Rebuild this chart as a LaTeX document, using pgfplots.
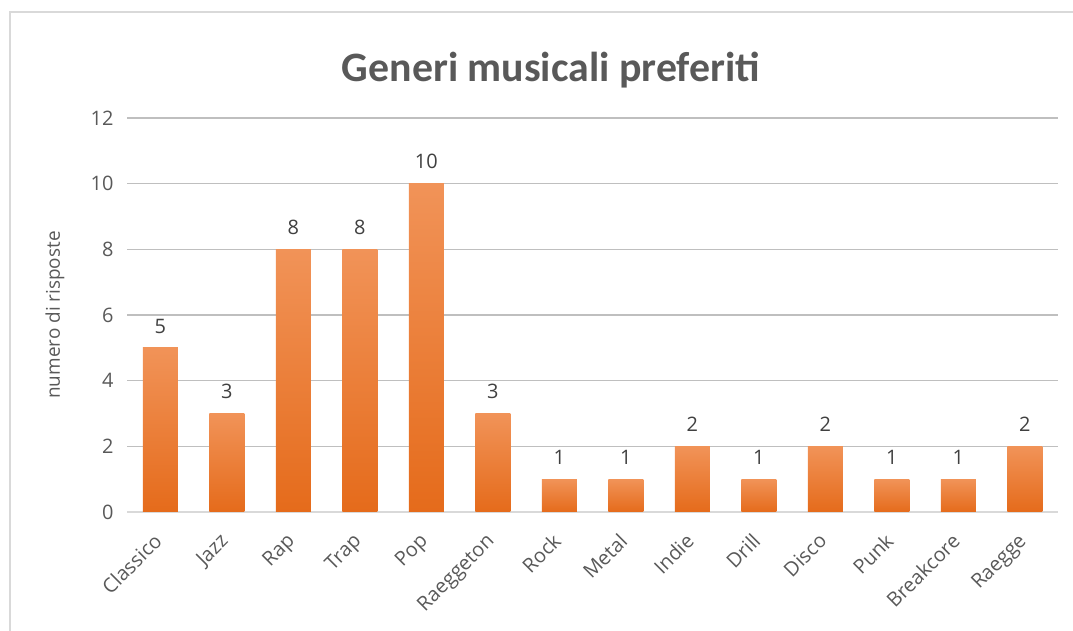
\documentclass[border=0pt]{standalone}
\usepackage{fontspec}
\setmainfont{Open Sans}
\newfontfamily\titlefont{Carlito}
\usepackage{pgfplots}
\pgfplotsset{compat=1.18}
\definecolor{txt}{HTML}{595959}
\definecolor{lab}{HTML}{404040}
\definecolor{grid}{HTML}{D9D9D9}
\definecolor{otop}{HTML}{F19358}
\definecolor{omid}{HTML}{F5832D}
\definecolor{obot}{HTML}{E56B1B}
\pgfplotsset{onebar/.style={ybar, bar shift=0pt, draw=none, top color=otop, middle color=omid, bottom color=obot}}
\begin{document}
\begin{tikzpicture}[x=1bp,y=1bp]
\useasboundingbox (0,0) rectangle (1073,631);
\draw[grid, line width=1.2bp] (10,619) rectangle (1090,-10);
\node[text=txt, font=\titlefont\fontsize{42}{46}\selectfont\bfseries] at (551,561) {Generi musicali preferiti};
\begin{axis}[
  scale only axis,
  width=931bp, height=394bp,
  anchor=south west, at={(127bp,119bp)},
  xmin=-0.5, xmax=13.5, ymin=0, ymax=12,
  ytick={0,2,...,12},
  xtick={0,...,13},
  xticklabels={Classico,Jazz,Rap,Trap,Pop,Raeggeton,Rock,Metal,Indie,Drill,Disco,Punk,Breakcore,Raegge},
  xticklabel style={rotate=45, anchor=north east, inner sep=1bp, xshift=-18.5bp, yshift=-7.5bp, font=\fontsize{20}{23}\selectfont},
  yticklabel style={xshift=-10bp},
  ymajorgrids, xmajorgrids=false,
  grid style={grid, line width=1.2bp},
  axis x line*=bottom, axis y line*=left,
  x axis line style={grid, line width=1.2bp, -},
  y axis line style={draw=none},
  major tick length=0pt,
  tick label style={text=txt, font=\fontsize{20}{23}\selectfont},
  /pgf/number format/assume math mode=true,
  ylabel={numero di risposte},
  every axis y label/.style={at={(axis description cs:0,0.5)}, rotate=90, anchor=center, yshift=72bp, text=txt, font=\fontsize{19}{22}\selectfont},
  bar width=35bp,
  nodes near coords,
  every node near coord/.append style={text=lab, font=\fontsize{20}{23}\selectfont, yshift=11bp},
  clip=false,
]
\addplot[onebar] coordinates {(0,5)};
\addplot[onebar] coordinates {(1,3)};
\addplot[onebar] coordinates {(2,8)};
\addplot[onebar] coordinates {(3,8)};
\addplot[onebar] coordinates {(4,10)};
\addplot[onebar] coordinates {(5,3)};
\addplot[onebar] coordinates {(6,1)};
\addplot[onebar] coordinates {(7,1)};
\addplot[onebar] coordinates {(8,2)};
\addplot[onebar] coordinates {(9,1)};
\addplot[onebar] coordinates {(10,2)};
\addplot[onebar] coordinates {(11,1)};
\addplot[onebar] coordinates {(12,1)};
\addplot[onebar] coordinates {(13,2)};
\end{axis}
\end{tikzpicture}
\end{document}
